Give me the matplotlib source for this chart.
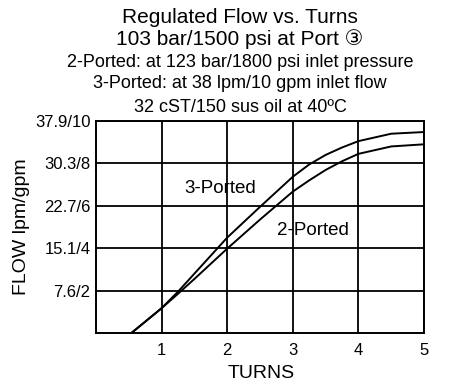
import matplotlib
matplotlib.use("Agg")
import matplotlib.pyplot as plt

plt.rcParams['font.family'] = ['Liberation Sans', 'DejaVu Sans', 'Noto Sans CJK SC']

# curves, flow in gpm vs turns
turns = [0.54, 1.0, 1.25, 1.5, 2.0, 2.5, 3.0, 3.25, 3.5, 3.75, 4.0, 4.5, 5.0]
flow_3port = [0.0, 1.17, 1.95, 2.8, 4.5, 5.95, 7.37, 7.95, 8.4, 8.75, 9.05, 9.4, 9.48]
flow_2port = [0.0, 1.17, 1.85, 2.55, 3.98, 5.35, 6.67, 7.2, 7.69, 8.1, 8.45, 8.8, 8.9]

x_ticks = [1, 2, 3, 4, 5]
y_ticks = [2, 4, 6, 8, 10]
y_labels = ['7.6/2', '15.1/4', '22.7/6', '30.3/8', '37.9/10']

title_lines = ['Regulated Flow vs. Turns',
               '103 bar/1500 psi at Port \u2462',
               '2-Ported: at 123 bar/1800 psi inlet pressure',
               '3-Ported: at 38 lpm/10 gpm inlet flow',
               '32 cST/150 sus oil at 40\u00baC']

W, H = 452, 384
fig = plt.figure(figsize=(W/100, H/100), dpi=100)
ax = fig.add_axes([96/W, 1 - 333/H, 328/W, 212/H])

ax.plot(turns, flow_3port, color='black', lw=1.4)
ax.plot(turns, flow_2port, color='black', lw=1.4)

ax.set_xlim(0, 5)
ax.set_ylim(0, 10)
ax.set_xticks(x_ticks)
ax.set_yticks(y_ticks)
ax.set_yticklabels(y_labels)
ax.tick_params(axis='y', length=0, labelsize=12, pad=4)
ax.tick_params(axis='x', length=0, labelsize=12, pad=7)
ax.grid(True, color='black', lw=1.3)
for s in ax.spines.values():
    s.set_linewidth(1.4)

ax.set_xlabel('TURNS', fontsize=14, va='baseline')
ax.xaxis.set_label_coords(0.505, -0.212)
ax.set_ylabel('FLOW lpm/gpm', fontsize=14)
ax.yaxis.set_label_coords(-0.201, 0.5)

ax.text(1.89, 6.59, '3-Ported', fontsize=13.5, ha='center', va='baseline')
ax.text(3.31, 4.62, '2-Ported', fontsize=13.5, ha='center', va='baseline')

sizes = [15, 15, 13, 13, 13]
baselines = [22.7, 45, 66.7, 88, 111.7]
for txt, fs, yb in zip(title_lines, sizes, baselines):
    fig.text(240/W, 1 - yb/H, txt, fontsize=fs, ha='center', va='baseline')

fig.savefig('out.png', dpi=100)
